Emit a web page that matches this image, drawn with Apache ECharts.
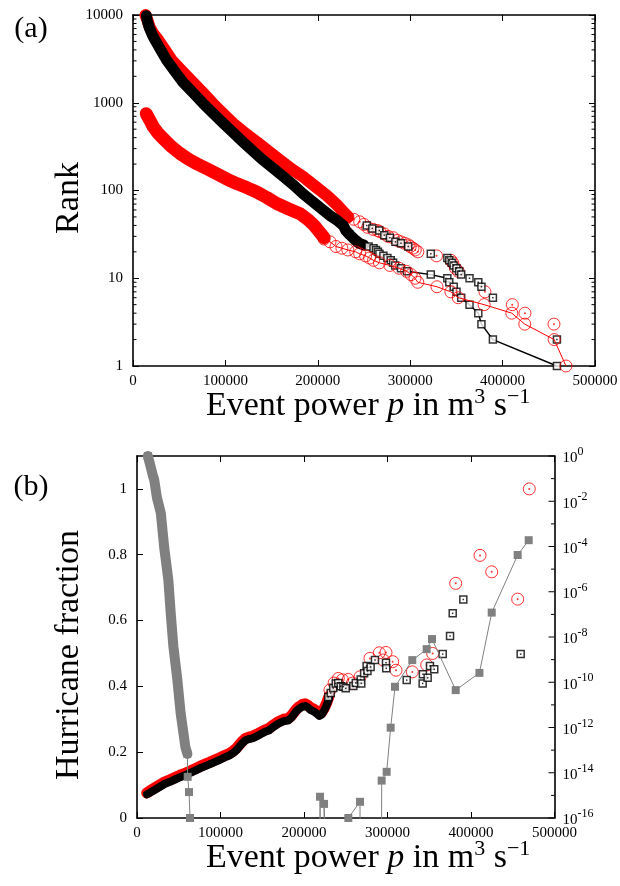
<!DOCTYPE html>
<html><head><meta charset="utf-8">
<script src="https://cdn.jsdelivr.net/npm/echarts@6/dist/echarts.min.js"></script>
<style>html,body{margin:0;padding:0;background:#fff}#c{width:620px;height:886px}</style>
</head><body><div id="c"></div>
<script>
// ---------- axis ticks ----------
const powerTicks = [0, 100000, 200000, 300000, 400000, 500000];
const rankTicks = [1, 10, 100, 1000, 10000];
const fracTicks = [0, 0.2, 0.4, 0.6, 0.8, 1.0];
const fracMax = 1.1;
const probExponents = [0, -2, -4, -6, -8, -10, -12, -14, -16];
const probMinorExponents = [-1, -3, -5, -7, -9, -11, -13, -15];

// ---------- panel (a): rank vs event power ----------
const rankRedUpperDense = [[13500,10000],[15500,8800],[18000,7300],[22000,6100],[27500,5150],[34500,4000],[42000,3050],[53000,2300],[64500,1720],[75500,1300],[86500,977],[97500,750],[108500,579],[121000,450],[133900,357],[146500,280],[159100,221],[171500,176],[184300,143],[197000,112],[209600,88],[221000,68],[232600,50]];
const rankRedUpperTail = [[232600,50],[239000,47],[245300,44],[250000,41],[253900,38],[260000,36],[264600,35],[267000,34],[272000,32],[276000,30],[281500,29],[286000,27],[290000,26],[294000,25],[298000,24],[300000,23],[303000,22],[305500,21],[308300,20],[328500,18],[344000,16],[346000,15],[349000,13],[352000,12],[380900,7],[410500,5],[424200,4],[455600,3]];
const rankBlackUpper = [[253000,40],[259000,37],[266500,35],[272000,31],[278000,29],[284000,26],[290000,25],[297900,23],[322300,19],[340200,17],[342300,16],[345000,15],[347000,14],[350000,13],[353000,12],[355200,11],[364200,10],[373700,9],[377100,8],[389500,6],[458800,2]];
const rankBlackMidDense = [[14500,9800],[15500,8500],[18000,7000],[21000,5900],[24000,5150],[30000,4000],[36500,3050],[45000,2300],[54000,1720],[65000,1300],[76000,980],[87000,750],[98000,580],[108000,460],[119000,357],[130000,280],[141000,221],[152000,178],[163000,143],[174000,115],[184000,92],[195000,74],[206000,59.5],[214000,51],[220500,46],[227600,40],[230300,35],[235000,31],[241000,27],[245000,25],[249600,24]];
const rankBlackMidTail = [[255000,23],[260300,22],[263000,21],[265000,20],[266700,19],[271000,18],[275300,17],[279000,16],[281500,15],[283800,14],[290000,13],[296600,12],[322300,11],[340200,10],[342300,9],[347100,8],[350100,7],[355200,6],[364200,5],[373700,4],[377100,3],[389500,2],[458800,1]];
const rankRedLowerDense = [[14300,750],[16500,680],[19000,610],[22000,530],[27000,450],[32800,390],[41000,320],[50900,264],[60000,228],[69000,202],[80000,177],[90600,155],[101000,136],[112200,120],[123000,108],[133900,96],[145000,83],[155500,71],[168000,62],[180700,54.5],[190000,46],[196000,40],[201500,34],[206800,29]];
const rankRedLowerTail = [[206800,28],[213200,26],[219700,23],[226100,22],[232500,21],[241000,20],[245300,19],[251700,18],[256000,17],[260300,16],[266700,15],[278000,14],[288000,13],[296000,12],[301000,11],[305200,10],[308200,9],[329000,8],[344000,7],[352000,6],[380000,5],[410000,4],[424000,3],[455800,2],[468600,1]];

// ---------- panel (b): hurricane fraction (left) and probability (right, log) ----------
const fracBlackDense = [[12000,0.072],[15600,0.077],[21500,0.086],[27500,0.095],[33500,0.104],[39500,0.11],[45500,0.117],[51500,0.124],[57500,0.13],[63100,0.136],[69000,0.143],[75400,0.151],[81000,0.157],[86800,0.163],[93000,0.17],[99400,0.177],[105000,0.184],[110400,0.19],[115000,0.197],[119500,0.207],[123000,0.218],[126500,0.228],[130000,0.236],[134100,0.24],[139000,0.243],[144000,0.249],[149000,0.256],[153500,0.262],[157800,0.266],[162000,0.274],[167000,0.283],[172000,0.29],[176800,0.295],[181000,0.296],[185000,0.305],[188000,0.315],[191000,0.325],[194500,0.333],[198000,0.338],[201500,0.34],[205000,0.335],[208000,0.328],[211500,0.324],[215000,0.318],[218500,0.31],[221500,0.315],[224500,0.328],[227500,0.345],[230000,0.362]];
const fracRedDense = [[11600,0.076],[15600,0.083],[21500,0.092],[27500,0.101],[33500,0.11],[39500,0.116],[45500,0.123],[51500,0.13],[57500,0.136],[63100,0.142],[69000,0.149],[75400,0.157],[81000,0.163],[86800,0.169],[93000,0.176],[99400,0.183],[105000,0.19],[110400,0.196],[115000,0.203],[119500,0.213],[123000,0.224],[126500,0.234],[130000,0.242],[134100,0.246],[139000,0.249],[144000,0.255],[149000,0.262],[153500,0.268],[157800,0.272],[162000,0.28],[167000,0.289],[172000,0.296],[176800,0.301],[181000,0.302],[185000,0.311],[188000,0.321],[191000,0.331],[194500,0.339],[198000,0.345],[201500,0.347],[205000,0.342],[208000,0.335],[211500,0.331],[215000,0.325],[218500,0.317],[221500,0.322],[224500,0.335],[227500,0.352],[230000,0.37]];
const fracRedTail = [[231100,0.389],[236000,0.41],[241100,0.424],[246000,0.42],[253100,0.421],[258000,0.41],[267100,0.429],[279000,0.485],[290200,0.502],[295000,0.48],[298200,0.503],[306200,0.475],[310200,0.449],[329700,0.444],[346900,0.465],[354100,0.5],[381700,0.713],[410800,0.798],[424800,0.748],[455900,0.665],[469800,1.0]];
const fracBlackTail = [[229100,0.368],[232000,0.38],[235000,0.395],[238000,0.409],[241000,0.41],[244000,0.4],[247100,0.399],[249900,0.394],[259100,0.401],[262000,0.41],[267900,0.421],[268600,0.409],[272000,0.44],[275000,0.462],[276000,0.447],[279800,0.459],[285000,0.48],[298200,0.472],[298500,0.455],[323000,0.419],[342100,0.409],[342400,0.437],[348100,0.426],[350900,0.462],[356000,0.452],[366100,0.498],[374900,0.553],[378100,0.622],[390800,0.664],[459500,0.498]];
const probGrayDense = [[13000,1],[15800,0.4],[18300,0.17],[20700,0.085],[23800,0.015],[28600,2.9e-3],[32500,9.5e-5],[37600,3.2e-6],[40400,1.1e-7],[43600,3.7e-9],[48300,1.3e-10],[52300,4.2e-12],[57900,1.4e-13],[60300,6.8e-14]];
const probGrayTail = [[60700,6.6e-15],[62300,1.4e-15],[63500,1e-16],[64000,1e-40],[218800,1e-40],[219200,8.7e-16],[223600,1e-40],[224000,4.2e-16],[252600,1e-40],[253100,1e-16],[267100,5.2e-16],[267600,1e-40],[292500,1e-40],[293000,4.5e-15],[299000,1.1e-14],[303800,9.8e-13],[309000,6.3e-11],[329700,9.5e-10],[346900,2.9e-9],[353300,8.1e-9],[381700,4.5e-11],[410100,2.6e-10],[424800,1.2e-7],[455900,4.2e-5],[469100,1.9e-4]];

// ---------- styling ----------
const F = 'Liberation Serif';
const RED = '#ff0000', BLK = '#000000', GRAY = '#808080';
const chart = echarts.init(document.getElementById('c'), null, {renderer: 'canvas'});

function xAxisDef(grid, pos, showLabel) {
  return {
    type: 'value', gridIndex: grid, position: pos,
    min: powerTicks[0], max: powerTicks[powerTicks.length - 1], interval: powerTicks[1] - powerTicks[0],
    axisLine: {show: true, onZero: false, lineStyle: {color: BLK, width: 1.6}},
    axisTick: {show: true, inside: true, length: 6, lineStyle: {color: BLK, width: 1}},
    axisLabel: {show: showLabel, formatter: v => String(v), fontFamily: F, fontSize: 15, color: BLK, margin: 8},
    splitLine: {show: false}
  };
}
function rankAxisDef(pos, showLabel) {
  return {
    type: 'log', logBase: 10, gridIndex: 0, position: pos,
    min: rankTicks[0], max: rankTicks[rankTicks.length - 1], splitNumber: 4,
    axisLine: {show: true, onZero: false, lineStyle: {color: BLK, width: 1.6}},
    axisTick: {show: true, inside: true, length: 6, lineStyle: {color: BLK, width: 1}},
    axisLabel: {show: showLabel, formatter: v => String(Math.round(v)), fontFamily: F, fontSize: 15, color: BLK, margin: 10},
    splitLine: {show: false}
  };
}

const option = {
  animation: false,
  backgroundColor: '#fff',
  grid: [
    {left: 133, right: 25, top: 15, height: 351, outerBoundsMode: 'none', containLabel: false},
    {left: 137, right: 65.5, top: 456, height: 362, outerBoundsMode: 'none', containLabel: false}
  ],
  xAxis: [xAxisDef(0, 'bottom', true), xAxisDef(0, 'top', false), xAxisDef(1, 'bottom', true), xAxisDef(1, 'top', false)],
  yAxis: [
    rankAxisDef('left', true),
    rankAxisDef('right', false),
    {
      type: 'value', gridIndex: 1, position: 'left', min: fracTicks[0], max: fracMax, interval: fracTicks[1] - fracTicks[0],
      axisLine: {show: true, onZero: false, lineStyle: {color: BLK, width: 1.6}},
      axisTick: {show: true, inside: true, length: 6, lineStyle: {color: BLK, width: 1}},
      axisLabel: {formatter: v => (v > 1.05 ? '' : String(+v.toFixed(1))), showMaxLabel: false, fontFamily: F, fontSize: 15, color: BLK, margin: 10},
      splitLine: {show: false}
    },
    {
      type: 'log', logBase: 10, gridIndex: 1, position: 'right',
      min: Math.pow(10, probExponents[probExponents.length - 1]), max: Math.pow(10, probExponents[0]),
      axisLine: {show: true, onZero: false, lineStyle: {color: BLK, width: 1.6}},
      axisTick: {show: false}, axisLabel: {show: false},
      splitLine: {show: false}
    }
  ],
  series: [
    // ---- (a) ----
    {type: 'line', xAxisIndex: 0, yAxisIndex: 0, data: rankRedUpperDense, showSymbol: false, silent: true, clip: false, z: 2,
     lineStyle: {color: RED, width: 12, cap: 'round', join: 'round'}},
    {type: 'scatter', xAxisIndex: 0, yAxisIndex: 0, data: rankRedUpperTail, symbol: 'circle', symbolSize: 12, clip: false, z: 2,
     itemStyle: {color: 'rgba(0,0,0,0)', borderColor: RED, borderWidth: 1}},
    {type: 'scatter', xAxisIndex: 0, yAxisIndex: 0, data: rankRedUpperTail, symbol: 'circle', symbolSize: 2, clip: false, z: 2,
     itemStyle: {color: RED}},
    {type: 'scatter', xAxisIndex: 0, yAxisIndex: 0, data: rankBlackUpper, symbol: 'rect', symbolSize: 7, clip: false, z: 3,
     itemStyle: {color: '#fff', borderColor: BLK, borderWidth: 1.5}},
    {type: 'scatter', xAxisIndex: 0, yAxisIndex: 0, data: rankBlackUpper, symbol: 'rect', symbolSize: 1.5, clip: false, z: 3,
     itemStyle: {color: BLK}},
    {type: 'line', xAxisIndex: 0, yAxisIndex: 0, data: rankBlackMidDense, showSymbol: false, silent: true, clip: false, z: 4,
     lineStyle: {color: BLK, width: 11, cap: 'round', join: 'round'}},
    {type: 'line', xAxisIndex: 0, yAxisIndex: 0, data: rankBlackMidDense.concat(rankBlackMidTail), showSymbol: false, clip: false, z: 4,
     lineStyle: {color: BLK, width: 1.5}},
    {type: 'scatter', xAxisIndex: 0, yAxisIndex: 0, data: rankBlackMidTail, symbol: 'rect', symbolSize: 7, clip: false, z: 5,
     itemStyle: {color: '#fff', borderColor: BLK, borderWidth: 1.5}},
    {type: 'line', xAxisIndex: 0, yAxisIndex: 0, data: rankRedLowerDense, showSymbol: false, silent: true, clip: false, z: 6,
     lineStyle: {color: RED, width: 13, cap: 'round', join: 'round'}},
    {type: 'line', xAxisIndex: 0, yAxisIndex: 0, data: rankRedLowerDense.concat(rankRedLowerTail), showSymbol: false, clip: false, z: 6,
     lineStyle: {color: RED, width: 1}},
    {type: 'scatter', xAxisIndex: 0, yAxisIndex: 0, data: rankRedLowerTail, symbol: 'circle', symbolSize: 12, clip: false, z: 6,
     itemStyle: {color: 'rgba(0,0,0,0)', borderColor: RED, borderWidth: 1}},
    // ---- (b) ----
    {type: 'line', xAxisIndex: 2, yAxisIndex: 2, data: fracRedDense, showSymbol: false, silent: true, clip: false, z: 2,
     lineStyle: {color: RED, width: 11, cap: 'round', join: 'round'}},
    {type: 'scatter', xAxisIndex: 2, yAxisIndex: 2, data: fracRedTail, symbol: 'circle', symbolSize: 12, clip: false, z: 2,
     itemStyle: {color: 'rgba(0,0,0,0)', borderColor: RED, borderWidth: 1}},
    {type: 'scatter', xAxisIndex: 2, yAxisIndex: 2, data: fracRedTail, symbol: 'circle', symbolSize: 2, clip: false, z: 2,
     itemStyle: {color: RED}},
    {type: 'line', xAxisIndex: 2, yAxisIndex: 2, data: fracBlackDense, showSymbol: false, silent: true, clip: false, z: 3,
     lineStyle: {color: BLK, width: 8, cap: 'round', join: 'round'}},
    {type: 'scatter', xAxisIndex: 2, yAxisIndex: 2, data: fracBlackTail, symbol: 'rect', symbolSize: 7, clip: false, z: 4,
     itemStyle: {color: '#fff', borderColor: BLK, borderWidth: 1.5}},
    {type: 'scatter', xAxisIndex: 2, yAxisIndex: 2, data: fracBlackTail, symbol: 'rect', symbolSize: 1.5, clip: false, z: 4,
     itemStyle: {color: BLK}},
    {type: 'line', xAxisIndex: 2, yAxisIndex: 3, data: probGrayDense, showSymbol: false, silent: true, clip: true, z: 5,
     lineStyle: {color: GRAY, width: 10, cap: 'round', join: 'round'}},
    {type: 'line', xAxisIndex: 2, yAxisIndex: 3, data: probGrayDense.concat(probGrayTail), showSymbol: true, symbol: 'rect', symbolSize: 8, clip: true, z: 5,
     itemStyle: {color: GRAY}, lineStyle: {color: GRAY, width: 1}}
  ]
};
chart.setOption(option);

// ---------- log ticks (via the axes' own scales) + texts ----------
function buildGraphics() {
  const g = [];
  const tick = (x1, y1, x2, y2) => g.push({type: 'line', silent: true, z: 50, shape: {x1, y1, x2, y2}, style: {stroke: BLK, lineWidth: 1}});
  const xa0 = chart.convertToPixel({xAxisIndex: 0}, powerTicks[0]);
  const xa1 = chart.convertToPixel({xAxisIndex: 0}, powerTicks[powerTicks.length - 1]);
  for (let k = 0; k < rankTicks.length - 1; k++) {
    for (let m = 2; m <= 9; m++) {
      const y = chart.convertToPixel({yAxisIndex: 0}, m * rankTicks[k]);
      tick(xa0, y, xa0 + 3.5, y);
      tick(xa1 - 3.5, y, xa1, y);
    }
  }
  const xb1 = chart.convertToPixel({xAxisIndex: 2}, powerTicks[powerTicks.length - 1]);
  const supRich = {
    b: {fontFamily: F, fontSize: 15, fill: BLK, color: BLK, verticalAlign: 'bottom'},
    e: {fontFamily: F, fontSize: 12, fill: BLK, color: BLK, verticalAlign: 'bottom', padding: [0, 0, 8, 0]}
  };
  probExponents.forEach(e => {
    const y = chart.convertToPixel({yAxisIndex: 3}, Math.pow(10, e));
    tick(xb1 - 6, y, xb1, y);
    g.push({type: 'text', x: xb1 + 8, y: y, z: 50, silent: true,
            style: {text: '{b|10}{e|' + e + '}', rich: supRich, align: 'left', verticalAlign: 'middle'}});
  });
  probMinorExponents.forEach(e => {
    const y = chart.convertToPixel({yAxisIndex: 3}, Math.pow(10, e));
    tick(xb1 - 3.5, y, xb1, y);
  });
  const rich = {
    n: {fontFamily: F, fontSize: 34, fill: BLK, color: BLK, verticalAlign: 'bottom'},
    i: {fontFamily: F, fontSize: 34, fontStyle: 'italic', fill: BLK, color: BLK, verticalAlign: 'bottom'},
    s: {fontFamily: F, fontSize: 22, fill: BLK, color: BLK, verticalAlign: 'bottom', padding: [0, 0, 15, 0]}
  };
  const xlabel = '{n|Event power }{i|p}{n| in m}{s|3}{n| s}{s|\u22121}';
  g.push({type: 'text', x: 206, y: 386, z: 50, style: {text: xlabel, rich: rich, align: 'left', verticalAlign: 'top'}});
  g.push({type: 'text', x: 206, y: 838, z: 50, style: {text: xlabel, rich: rich, align: 'left', verticalAlign: 'top'}});
  g.push({type: 'text', x: 69, y: 198, rotation: Math.PI / 2, z: 50,
          style: {text: 'Rank', fontFamily: F, fontSize: 34, fill: BLK, align: 'center', verticalAlign: 'middle'}});
  g.push({type: 'text', x: 69, y: 655, rotation: Math.PI / 2, z: 50,
          style: {text: 'Hurricane fraction', fontFamily: F, fontSize: 34, fill: BLK, align: 'center', verticalAlign: 'middle'}});
  g.push({type: 'text', x: 31, y: 29, z: 50, style: {text: '(a)', fontFamily: F, fontSize: 30, fill: BLK, align: 'center', verticalAlign: 'middle'}});
  g.push({type: 'text', x: 31, y: 487, z: 50, style: {text: '(b)', fontFamily: F, fontSize: 30, fill: BLK, align: 'center', verticalAlign: 'middle'}});
  return g;
}
chart.setOption({graphic: buildGraphics()});
</script>
</body></html>
